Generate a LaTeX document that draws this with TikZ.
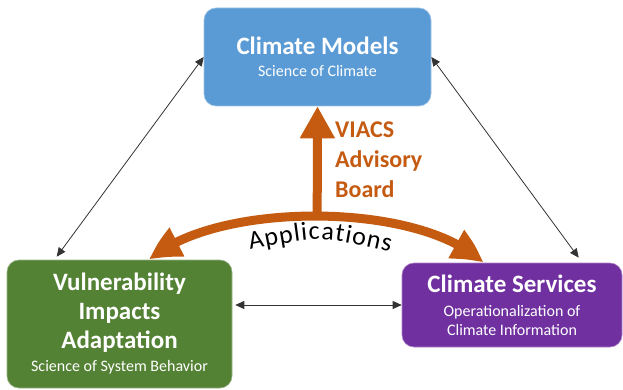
\documentclass[tikz,border=0pt]{standalone}
\usepackage{fontspec}
\setmainfont{Carlito}
\usepackage{tikz}
\usetikzlibrary{positioning,arrows.meta,bending,decorations.text}

\definecolor{modelblue}{HTML}{5B9BD5}
\definecolor{viagreen}{HTML}{548235}
\definecolor{servpurple}{HTML}{7030A0}
\definecolor{boardorange}{HTML}{C55A11}

\newcommand\boxtitle{\fontsize{25}{19}\selectfont\bfseries}

\tikzset{
  box/.style={rounded corners=12pt, fill=#1, draw=#1!60!white, line width=0.6pt,
    text=white, align=center, inner sep=0pt,
    font={\fontsize{16}{19}\selectfont\lineskiplimit=-50pt}},
  link/.style={{Triangle[length=9pt,width=8pt]}-{Triangle[length=9pt,width=8pt]},
    line width=0.8pt, black!80},
  board/.style={line width=9pt, boardorange},
  bigtip/.tip={Triangle[length=31pt,width=31pt,bend]}
}

\begin{document}
\begin{tikzpicture}[x=1pt,y=-1pt]
\useasboundingbox (0,0) rectangle (623,390);

	\node[box=modelblue, minimum width=227pt, minimum height=98pt] (models) at (317.5,57)
		{\boxtitle Climate Models\\[3pt]Science of Climate};
	\node[box=viagreen, minimum width=225pt, minimum height=128pt] (vuln) at (119.5,324)
		{\boxtitle Vulnerability\\[10pt]\boxtitle Impacts\\[10pt]\boxtitle Adaptation\\[4pt]Science of System Behavior};
	\node[box=servpurple, minimum width=220pt, minimum height=84pt] (serv) at (512,305)
		{\boxtitle Climate Services\\[5pt]Operationalization of\\Climate Information};

	% two-way links
	\draw[link] (models.west) -- ([xshift=50pt,yshift=3pt]vuln.north west);
	\draw[link] (models.east) -- ([xshift=177pt,yshift=5pt]serv.north west);
	\draw[link] ([xshift=3pt]vuln.east |- serv.west) -- (serv.west);

	% advisory board arrows
	\draw[board, bigtip-bigtip] ([xshift=143pt]vuln.north west)
		.. controls (215,201) and (420,201) .. coordinate[pos=0.5] (arcTop)
		([xshift=81pt]serv.north west);
	\draw[board, -{Triangle[length=32pt,width=33pt]}] (arcTop) -- (models.south);

	\node[font=\fontsize{24}{30}\selectfont\bfseries, text=boardorange, align=left,
		anchor=north west, inner sep=0pt] (advisory) at (335,122) {VIACS\\Advisory\\Board};
	\path[decorate, decoration={text along path, text align=fit to path,
		text={|\fontsize{26}{26}\selectfont|Applications}}]
		(250,250) .. controls (320,236) .. (390,252);
\end{tikzpicture}
\end{document}
